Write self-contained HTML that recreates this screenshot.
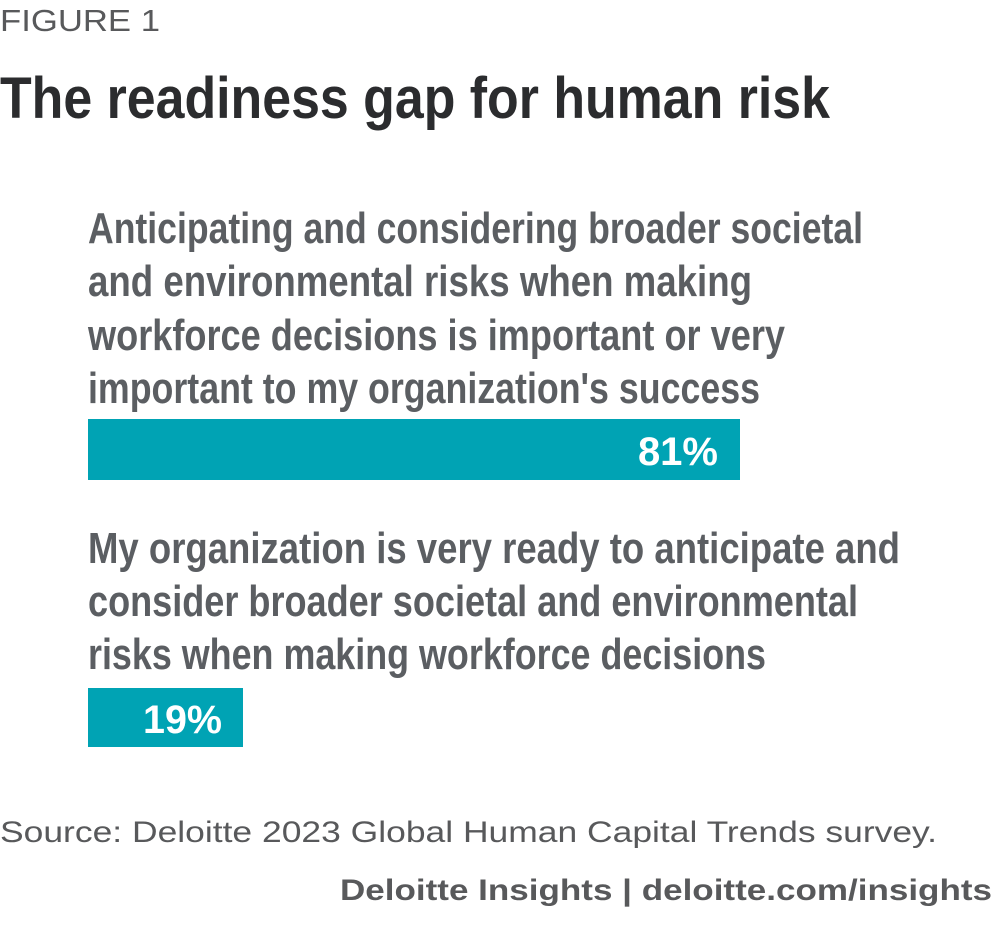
<!DOCTYPE html>
<html><head><meta charset="utf-8"><style>
html,body{margin:0;padding:0;background:#fff;}
svg{display:block;}
</style></head><body>
<svg width="1000" height="927" xmlns="http://www.w3.org/2000/svg" font-family="Liberation Sans, sans-serif">
<text x="0" y="31" font-size="31" fill="#58595b" textLength="160" lengthAdjust="spacingAndGlyphs">FIGURE 1</text>
<text x="0" y="118" font-size="58" font-weight="bold" fill="#2b2c2e" textLength="830" lengthAdjust="spacingAndGlyphs">The readiness gap for human risk</text>
<g font-size="44" font-weight="bold" fill="#5b5e62">
<text x="88" y="243" textLength="775" lengthAdjust="spacingAndGlyphs">Anticipating and considering broader societal</text>
<text x="88" y="296" textLength="664" lengthAdjust="spacingAndGlyphs">and environmental risks when making</text>
<text x="88" y="350" textLength="697" lengthAdjust="spacingAndGlyphs">workforce decisions is important or very</text>
<text x="88" y="403" textLength="672" lengthAdjust="spacingAndGlyphs">important to my organization's success</text>
<text x="88" y="563" textLength="812" lengthAdjust="spacingAndGlyphs">My organization is very ready to anticipate and</text>
<text x="88" y="616" textLength="770" lengthAdjust="spacingAndGlyphs">consider broader societal and environmental</text>
<text x="88" y="669" textLength="678" lengthAdjust="spacingAndGlyphs">risks when making workforce decisions</text>
</g>
<rect x="88" y="419" width="652" height="61" fill="#00a3b4"/>
<text x="718" y="465" font-size="40" font-weight="bold" fill="#fff" text-anchor="end">81%</text>
<rect x="88" y="688" width="155" height="59" fill="#00a3b4"/>
<text x="143" y="733" font-size="40" font-weight="bold" fill="#fff" textLength="79" lengthAdjust="spacingAndGlyphs">19%</text>
<text x="0" y="842" font-size="30" fill="#58595b" textLength="937" lengthAdjust="spacingAndGlyphs">Source: Deloitte 2023 Global Human Capital Trends survey.</text>
<text x="340" y="900" font-size="30" font-weight="bold" fill="#58595b" textLength="652" lengthAdjust="spacingAndGlyphs">Deloitte Insights | deloitte.com/insights</text>
</svg>
</body></html>
